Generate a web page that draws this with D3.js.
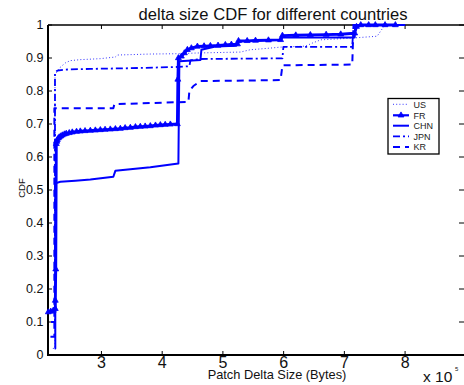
<!DOCTYPE html>
<html><head><meta charset="utf-8">
<script src="https://cdn.jsdelivr.net/npm/d3@7/dist/d3.min.js"></script>
<style>body{margin:0;background:#fff}svg{display:block}text{font-family:"Liberation Sans",Arial,sans-serif}</style>
</head><body>
<script>
// x values in units of 1e5 bytes, y = CDF
const US = [[2.2,0.02],[2.235,0.02],[2.235,0.85],[2.257,0.855],[2.323,0.872],[2.405,0.885],[2.487,0.892],[2.652,0.895],[2.982,0.898],[3.229,0.903],[3.262,0.909],[3.805,0.912],[4.267,0.913],[4.547,0.915],[5.29,0.918],[5.45,0.925],[5.78,0.93],[5.95,0.933],[6.36,0.936],[6.47,0.945],[6.61,0.955],[7.1,0.96],[7.54,0.966],[7.61,0.985],[7.67,1.0],[8.0,1.0]];
const FR = [[2.125,0.13],[2.165,0.132],[2.207,0.135],[2.24,0.14],[2.24,0.165],[2.248,0.26],[2.257,0.64],[2.265,0.647],[2.273,0.652],[2.29,0.657],[2.306,0.66],[2.33,0.663],[2.356,0.666],[2.39,0.669],[2.421,0.671],[2.47,0.673],[2.52,0.675],[2.59,0.677],[2.652,0.678],[2.73,0.679],[2.817,0.68],[2.9,0.681],[2.982,0.682],[3.06,0.683],[3.146,0.684],[3.23,0.685],[3.311,0.686],[3.39,0.688],[3.476,0.689],[3.56,0.691],[3.64,0.692],[3.72,0.693],[3.805,0.694],[3.89,0.696],[3.97,0.697],[4.05,0.698],[4.135,0.699],[4.25,0.70],[4.258,0.835],[4.267,0.90],[4.316,0.905],[4.366,0.915],[4.415,0.925],[4.481,0.93],[4.58,0.935],[4.69,0.936],[4.794,0.937],[4.92,0.938],[5.04,0.94],[5.14,0.941],[5.24,0.942],[5.257,0.952],[5.4,0.952],[5.537,0.953],[5.75,0.954],[5.95,0.955],[5.98,0.968],[6.2,0.969],[6.44,0.97],[6.7,0.971],[6.94,0.972],[7.17,0.975],[7.2,0.995],[7.27,1.0],[7.4,1.0],[7.51,1.0],[7.67,1.0],[7.84,1.0]];
const CHN = [[2.23,0.02],[2.24,0.02],[2.24,0.52],[2.323,0.525],[2.57,0.528],[2.817,0.532],[3.196,0.54],[3.229,0.558],[3.476,0.563],[3.805,0.569],[4.267,0.58],[4.283,0.89],[4.63,0.894],[4.646,0.925],[4.876,0.935],[5.22,0.937],[5.24,0.95],[5.95,0.955],[5.98,0.962],[7.17,0.962],[7.18,1.0],[8.0,1.0]];
const JPN = [[2.17,0.10],[2.235,0.10],[2.235,0.855],[2.273,0.862],[2.405,0.865],[2.817,0.867],[3.476,0.869],[4.267,0.873],[4.448,0.875],[4.465,0.893],[4.63,0.897],[5.98,0.899],[5.996,0.934],[7.13,0.934],[7.15,1.0],[8.0,1.0]];
const KR = [[2.16,0.055],[2.225,0.055],[2.225,0.748],[3.196,0.748],[3.213,0.76],[4.25,0.766],[4.432,0.767],[4.448,0.80],[4.514,0.815],[4.63,0.83],[5.95,0.833],[5.98,0.878],[7.13,0.88],[7.15,1.0],[8.0,1.0]];
const seriesNames = ["US","FR","CHN","JPN","KR"];
const xTicks = [3,4,5,6,7,8];
const yTicks = [0,0.1,0.2,0.3,0.4,0.5,0.6,0.7,0.8,0.9,1];
const yTickLabels = ["0","0.1","0.2","0.3","0.4","0.5","0.6","0.7","0.8","0.9","1"];
const titleText = "delta size CDF for different countries";
const xLabelText = "Patch Delta Size (Bytes)";
const yLabelText = "CDF";

const W=464,H=385;
const svg=d3.select("body").append("svg").attr("width",W).attr("height",H);
const x=d3.scaleLinear().domain([2.12,8.97]).range([48,464]);
const y=d3.scaleLinear().domain([0,1]).range([355,25]);
const blue="#0000ff";
const styles={
  US:{w:1,dash:"1,2.2",op:0.8},
  FR:{w:2.8,dash:null,op:1},
  CHN:{w:2,dash:null,op:1},
  JPN:{w:1.8,dash:"7,3,2,3",op:1},
  KR:{w:2,dash:"7,5",op:1}
};
const data={US,FR,CHN,JPN,KR};
const line=d3.line().x(d=>x(d[0])).y(d=>y(d[1]));

// axes box
const ax=svg.append("g");
ax.append("line").attr("x1",48).attr("x2",464).attr("y1",25).attr("y2",25).attr("stroke","#000").attr("stroke-width",1.6);
ax.append("line").attr("x1",48).attr("x2",464).attr("y1",355).attr("y2",355).attr("stroke","#000").attr("stroke-width",2.2);
ax.append("line").attr("x1",48).attr("x2",48).attr("y1",25).attr("y2",356).attr("stroke","#000").attr("stroke-width",2);
xTicks.forEach(t=>{
  ax.append("line").attr("x1",x(t)).attr("x2",x(t)).attr("y1",355).attr("y2",351).attr("stroke","#000").attr("stroke-width",1);
  ax.append("line").attr("x1",x(t)).attr("x2",x(t)).attr("y1",25).attr("y2",29).attr("stroke","#000").attr("stroke-width",1);
  ax.append("text").attr("x",x(t)).attr("y",368).attr("text-anchor","middle").attr("font-size",16).attr("fill","#111").text(t);
});
yTicks.forEach((t,i)=>{
  ax.append("line").attr("x1",48).attr("x2",52).attr("y1",y(t)).attr("y2",y(t)).attr("stroke","#000").attr("stroke-width",1);
  ax.append("line").attr("x1",459).attr("x2",464).attr("y1",y(t)).attr("y2",y(t)).attr("stroke","#000").attr("stroke-width",1);
  ax.append("text").attr("x",43.5).attr("y",y(t)+4.3).attr("text-anchor","end").attr("font-size",12.5).attr("fill","#111").text(yTickLabels[i]);
});

seriesNames.forEach(n=>{
  const s=styles[n];
  svg.append("path").attr("d",line(data[n])).attr("fill","none").attr("stroke",blue)
    .attr("stroke-width",s.w).attr("stroke-dasharray",s.dash).attr("opacity",s.op)
    .attr("stroke-linejoin","round");
});
const tri=d3.symbol().type(d3.symbolTriangle).size(15);
svg.append("g").selectAll("path").data(FR).join("path")
  .attr("d",tri).attr("transform",d=>`translate(${x(d[0])},${y(d[1])})`)
  .attr("fill",blue).attr("stroke",blue).attr("stroke-width",0.8);

svg.append("text").attr("x",273).attr("y",19.5).attr("text-anchor","middle").attr("font-size",16.6).attr("fill","#111").text(titleText);
svg.append("text").attr("x",277).attr("y",378.5).attr("text-anchor","middle").attr("font-size",12.8).attr("fill","#111").text(xLabelText);
svg.append("text").attr("transform","translate(25,188) rotate(-90)").attr("text-anchor","middle").attr("font-size",9.5).attr("fill","#111").text(yLabelText);
svg.append("text").attr("x",423).attr("y",382).attr("font-size",15.5).attr("fill","#111").text("x 10");
svg.append("text").attr("x",455).attr("y",371).attr("font-size",6).attr("fill","#111").text("5");

const lg=svg.append("g");
lg.append("rect").attr("x",388).attr("y",98.5).attr("width",51).attr("height",55.5).attr("fill","#fff").attr("stroke","#000").attr("stroke-width",1.3);
const ly=[104.3,115.3,125.7,136.3,147];
seriesNames.forEach((n,i)=>{
  const s=styles[n];
  lg.append("line").attr("x1",393).attr("x2",409).attr("y1",ly[i]).attr("y2",ly[i]).attr("stroke",blue)
    .attr("stroke-width",Math.min(s.w,2.2)).attr("stroke-dasharray",s.dash).attr("opacity",s.op);
  if(n==="FR") lg.append("path").attr("d",tri).attr("transform",`translate(401,${ly[i]})`).attr("fill",blue).attr("stroke",blue).attr("stroke-width",0.8);
  lg.append("text").attr("x",413.5).attr("y",ly[i]+3.2).attr("font-size",9).attr("fill","#222").text(n);
});
</script>
</body></html>
